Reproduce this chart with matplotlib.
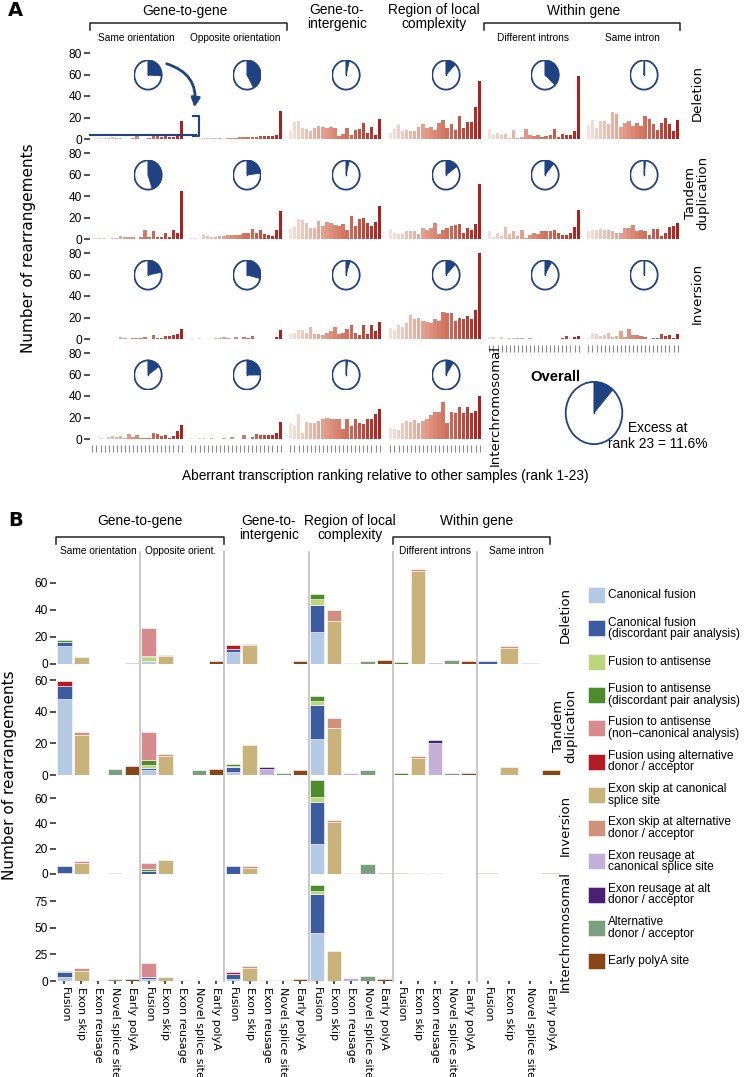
import numpy as np
import matplotlib
matplotlib.use('Agg')
import matplotlib.pyplot as plt
from matplotlib.colors import LinearSegmentedColormap
from matplotlib.patches import Wedge, Ellipse, FancyArrowPatch, Rectangle
from matplotlib.lines import Line2D
from matplotlib import font_manager as fm

# ---------------- DATA ----------------
groups_A = ["Same orientation", "Opposite orientation", "Gene-to-intergenic",
            "Region of local complexity", "Different introns", "Same intron"]
rows_A = ["Deletion", "Tandem\nduplication", "Inversion", "Interchromosomal"]
ranks = list(range(1, 24))

deletion_counts = [
    [0, 0.5, 0.5, 0.5, 1, 1.5, 1, 0.5, 0, 0, 1, 3, 0, 0, 1, 3, 4, 2, 5, 2, 2, 5, 17],
    [1, 0, 0.5, 0.5, 0.5, 0.5, 0.5, 1, 0, 1, 1, 1, 1.5, 1.5, 2, 2, 2, 3, 3, 3, 3, 4, 26],
    [7, 16, 17, 10, 9, 7, 10, 12, 11, 10, 11, 10, 3, 5, 10, 4, 8, 9, 15, 6, 11, 4, 19],
    [6, 9, 13, 7, 8, 7, 7, 11, 14, 10, 11, 8, 15, 18, 10, 14, 8, 21, 10, 16, 16, 30, 54],
    [9, 4, 6, 4, 5, 1, 8, 1, 2, 9, 4, 3, 4, 2, 3, 4, 9, 2, 5, 4, 4, 7, 59],
    [13, 18, 10, 17, 17, 14, 25, 23, 11, 15, 17, 12, 15, 12, 21, 19, 14, 8, 15, 20, 14, 7, 18],
]
tandem_counts = [
    [0.5, 0.5, 0.5, 0.5, 0, 1, 1, 3, 2, 2, 2, 0, 2, 8, 2, 7, 2, 2, 6, 2, 8, 6, 45],
    [1, 1, 0, 4, 3, 2, 2, 3, 3, 4, 4, 4, 4, 6, 6, 9, 6, 8, 5, 4, 3, 8, 26],
    [9, 11, 19, 18, 15, 10, 10, 17, 12, 16, 15, 13, 12, 14, 8, 21, 12, 19, 20, 15, 12, 16, 31],
    [9, 6, 5, 5, 7, 7, 7, 5, 10, 8, 10, 15, 5, 8, 10, 12, 13, 14, 6, 10, 8, 14, 51],
    [7, 2, 6, 3, 11, 5, 7, 3, 8, 1, 4, 6, 5, 7, 7, 7, 8, 6, 4, 4, 6, 11, 27],
    [7, 8, 8, 9, 8, 8, 7, 6, 6, 10, 10, 13, 7, 8, 7, 4, 9, 9, 3, 6, 11, 12, 15],
]
inversion_counts = [
    [0, 0, 0, 0, 0, 0, 0, 1.5, 1, 0, 1, 1, 1, 1.5, 0, 4, 1, 1, 3, 3, 4, 5, 9],
    [0.5, 0, 0.5, 0, 0, 0, 1, 1, 1.5, 1, 0, 2, 0, 2, 1, 3, 0, 0, 0, 0, 0, 2, 8],
    [5, 6, 8, 8, 6, 11, 5, 5, 4, 6, 7, 11, 5, 6, 9, 13, 6, 4, 13, 5, 13, 7, 16],
    [10, 8, 13, 11, 15, 22, 19, 20, 17, 16, 15, 19, 17, 25, 24, 24, 17, 20, 19, 21, 19, 27, 80],
    [2, 2, 0, 1.5, 0, 1, 1, 0.5, 1, 0, 1, 0, 0, 0, 0, 0, 0, 0, 1, 3, 0, 1.5, 2.5],
    [1, 6, 5, 3, 4, 6, 2, 3, 7, 2, 9, 4, 4, 3, 2, 0, 1, 1, 5, 3, 4, 1, 5],
]
interchrom_counts = [
    [0, 0, 1, 0, 2, 3, 2, 3, 1, 5, 2, 4, 1, 1, 1, 6, 5, 3, 4, 1, 3, 7, 13],
    [1, 0, 0.5, 0.5, 0, 0.5, 0, 0, 1, 0, 2, 0, 0, 4, 0, 2, 5, 4, 4, 4, 4, 6, 16],
    [15, 12, 23, 6, 16, 15, 15, 17, 19, 20, 19, 19, 19, 9, 19, 12, 19, 15, 14, 19, 19, 23, 28],
    [10, 9, 8, 15, 17, 16, 18, 15, 17, 19, 22, 25, 25, 34, 15, 25, 24, 30, 24, 30, 24, 26, 40],
]
deletion_excess = [0.26, 0.42, 0.04, 0.12, 0.37, 0.005]
tandem_excess = [0.45, 0.23, 0.04, 0.15, 0.11, 0.02]
inversion_excess = [0.22, 0.29, 0.05, 0.12, 0.08, 0.01]
interchrom_excess = [0.15, 0.25, 0.02, 0.09]
overall_excess = 0.116

# Panel B
groups_B = ["Same orientation", "Opposite orient.", "Gene-to-intergenic",
            "Region of local complexity", "Different introns", "Same intron"]
event_types = ["Canonical fusion", "Canonical fusion\n(discordant pair analysis)",
               "Fusion to antisense", "Fusion to antisense\n(discordant pair analysis)",
               "Fusion to antisense\n(non\u2212canonical analysis)",
               "Fusion using alternative\ndonor / acceptor",
               "Exon skip at canonical\nsplice site", "Exon skip at alternative\ndonor / acceptor",
               "Exon reusage at\ncanonical splice site", "Exon reusage at alt\ndonor / acceptor",
               "Alternative\ndonor / acceptor", "Early polyA site"]
event_classes = ["Fusion", "Exon skip", "Exon reusage", "Novel splice site", "Early polyA"]
type_class = [0, 0, 0, 0, 0, 0, 1, 1, 2, 2, 3, 4]
group_classes = [[0, 1, 2, 3, 4]] * 5 + [[0, 1, 3, 4]]
type_colors = ['#b4c9e3', '#3d5c9f', '#bdd57c', '#4f8a2c', '#d78b8e', '#b01c22',
               '#c9b37b', '#d0917a', '#c4afd6', '#4b1f71', '#7c9f7f', '#8a4516']
# rows = event types, columns = groups
deletion_B = np.array([
    [13, 2, 9, 24, 0, 0],
    [3, 0, 2, 20, 0, 2],
    [0, 3, 0, 4, 0, 0],
    [2, 1, 0, 4, 1.5, 0],
    [0, 21, 0, 0, 0, 0],
    [0, 0, 3, 0, 0, 0],
    [5, 6, 14, 32, 68.5, 12],
    [0, 0.5, 1, 8, 2, 1],
    [0, 0, 0, 1, 0, 0],
    [0, 0, 0, 0, 1, 0],
    [0, 0, 0, 2, 3, 1],
    [1, 2, 2, 3, 2, 0],
])
tandem_B = np.array([
    [48, 3, 2, 23, 0, 0],
    [8, 1.5, 3, 21, 0, 0],
    [0, 2, 1, 3, 0, 0],
    [0, 3, 1, 3, 1, 0],
    [0, 17.5, 0, 0, 0, 0],
    [3.5, 0, 0, 0, 0, 0],
    [25, 12, 19, 30, 11, 5],
    [2, 1.2, 0, 6, 1, 0],
    [0, 0, 4, 1, 20, 0],
    [0, 0, 0.8, 0, 2, 0],
    [4, 3, 1, 3, 1, 0],
    [6, 4, 3, 0, 1, 3],
])
inversion_B = np.array([
    [1, 0, 0, 24, 0, 0],
    [5, 2, 6, 33, 0, 0],
    [0, 0, 0, 3.5, 0, 0],
    [0, 2, 0, 13.5, 1, 1],
    [0, 5, 0, 0, 0, 0],
    [0, 0, 0, 0, 0, 0],
    [9, 11, 5, 41, 1, 0],
    [1, 0, 1, 1.5, 0, 0],
    [0, 0, 0, 1, 1, 0],
    [0, 0, 0, 0, 0, 0],
    [1, 0, 0, 8, 0, 0],
    [0, 0, 0, 1, 0, 1],
])
interchrom_B = np.array([
    [4, 2, 2, 45, 0, 0],
    [4, 2, 4.5, 37, 0, 0],
    [0, 0, 0, 3, 0, 0],
    [1.5, 0, 0.5, 5.5, 0, 0],
    [0, 12.5, 0, 0, 0, 0],
    [0, 0, 1.5, 0, 0, 0],
    [9, 4, 12, 28, 0, 0],
    [3, 0, 2, 0, 0, 0],
    [1, 1, 1, 3, 0, 0],
    [0, 0, 0, 0, 0, 0],
    [2, 0, 1, 5, 0, 0],
    [2, 0, 2, 2, 0, 0],
])
rows_B = ["Deletion", "Tandem\nduplication", "Inversion", "Interchromosomal"]

# ---------------- FIGURE ----------------
_names = {f.name for f in fm.fontManager.ttflist}
NARROW = 'Liberation Sans Narrow' if 'Liberation Sans Narrow' in _names else 'Liberation Sans'
NS = 1.0 if NARROW == 'Liberation Sans Narrow' else 0.86
SANS = 'DejaVu Sans'

W, H = 746, 1077
fig = plt.figure(figsize=(W / 100, H / 100), dpi=100)


def add_ax(x0, y0, w, h):
    return fig.add_axes([x0 / W, 1 - (y0 + h) / H, w / W, h / H])


def ftext(x, y, s, **kw):
    return fig.text(x / W, 1 - y / H, s, **kw)


def fline(xs, ys, **kw):
    fig.add_artist(Line2D([x / W for x in xs], [1 - y / H for y in ys], **kw))


BLUE = '#1f4283'
cmap = LinearSegmentedColormap.from_list('reds', ['#f5e1d9', '#e5a695', '#cf6a57', '#b11d1b'])
rank_colors = [cmap(i / 22) for i in range(23)]

# ---------- Panel A ----------
gx0 = [90, 189, 288, 388, 487, 586]
gw = 94
row_top = [53, 153, 253, 353]
row_h = 86
A_data = [deletion_counts, tandem_counts, inversion_counts, interchrom_counts]
A_excess = [deletion_excess, tandem_excess, inversion_excess, interchrom_excess]


def pie(cx, cy, w, h, frac, lw=1.3):
    pax = add_ax(cx - w / 2, cy - h / 2, w, h)
    pax.set_xlim(-1.06, 1.06)
    pax.set_ylim(-1.06, 1.06)
    pax.axis('off')
    pax.add_patch(Ellipse((0, 0), 2, 2, fc='white', ec=BLUE, lw=lw))
    pax.add_patch(Wedge((0, 0), 1, 90 - 360 * frac, 90, fc=BLUE, ec=BLUE, lw=0.6))
    pax.plot([0, 0], [0, 1], color=BLUE, lw=1.0)


for r, data in enumerate(A_data):
    for g, vals in enumerate(data):
        ax = add_ax(gx0[g], row_top[r], gw, row_h)
        x = np.arange(len(ranks))
        ax.bar(x, vals, width=0.84, color=rank_colors, linewidth=0)
        ax.set_xlim(-0.6, 22.6)
        ax.set_ylim(0, 80)
        ax.patch.set_alpha(0)
        for s in ax.spines.values():
            s.set_visible(False)
        if g == 0:
            ax.set_yticks([0, 20, 40, 60, 80])
            ax.tick_params(axis='y', length=4, width=1.1, pad=2, labelsize=10 * NS,
                           color='#222222')
            for t in ax.get_yticklabels():
                t.set_fontfamily(NARROW)
        else:
            ax.set_yticks([])
        bottom = (r == 3) or (r == 2 and g >= 4)
        if bottom:
            ax.spines['bottom'].set_position(('outward', 4))
            ax.set_xticks(x)
            ax.tick_params(axis='x', length=5, width=0.8, color='#8a8a8a', labelbottom=False)
        else:
            ax.set_xticks([])
        pie(gx0[g] + gw / 2 + 11, row_top[r] + 22, 29, 31, A_excess[r][g])

# overall pie
pie(594, 413, 60, 66, overall_excess, lw=1.3)
ftext(555, 377, "Overall", ha='center', va='center', fontsize=12.5 * NS, fontweight='bold',
      family=NARROW)
ftext(658, 428, "Excess at", ha='center', va='center', fontsize=11.5 * NS, family=NARROW)
ftext(658, 444, "rank 23 = 11.6%", ha='center', va='center', fontsize=11.5 * NS, family=NARROW)

# arrow and bracket in deletion / same orientation
fig.add_artist(FancyArrowPatch((164 / W, 1 - 63 / H), (194 / W, 1 - 110 / H),
                               connectionstyle='arc3,rad=-0.45', arrowstyle='-|>',
                               mutation_scale=13, color=BLUE, lw=2.0))
fline([90, 196], [135, 135], color=BLUE, lw=1.5)
fline([193, 199, 199, 193], [116, 116, 136, 136], color=BLUE, lw=1.5)

# panel A headers
ftext(8, 10, "A", ha='left', va='center', fontsize=14, fontweight='bold', family=SANS)
ftext(185, 11, "Gene-to-gene", ha='center', va='center', fontsize=11.5 * NS, family=NARROW)
fline([90, 90, 287, 287], [30, 23, 23, 30], color='#222222', lw=1.1)
ftext(136, 38, "Same orientation", ha='center', va='center', fontsize=8.5 * NS, family=NARROW)
ftext(235, 38, "Opposite orientation", ha='center', va='center', fontsize=8.5 * NS, family=NARROW)
ftext(337, 17, "Gene-to-\nintergenic", ha='center', va='center', fontsize=11.5 * NS,
      family=NARROW, linespacing=0.95)
ftext(434, 17, "Region of local\ncomplexity", ha='center', va='center', fontsize=11.5 * NS,
      family=NARROW, linespacing=0.95)
ftext(584, 11, "Within gene", ha='center', va='center', fontsize=11.5 * NS, family=NARROW)
fline([484, 484, 680, 680], [30, 23, 23, 30], color='#222222', lw=1.1)
ftext(533, 38, "Different introns", ha='center', va='center', fontsize=8.5 * NS, family=NARROW)
ftext(632, 38, "Same intron", ha='center', va='center', fontsize=8.5 * NS, family=NARROW)

for r, lab in enumerate(rows_A[:3]):
    ftext(697, row_top[r] + 40, lab, ha='center', va='center', rotation=90, fontsize=9.5,
          family=SANS, linespacing=0.9)
ftext(495, 406, rows_A[3], ha='center', va='center', rotation=90, fontsize=9.5, family=SANS)
ftext(29, 248, "Number of rearrangements", ha='center', va='center', rotation=90,
      fontsize=11, family=SANS)
ftext(385, 476, "Aberrant transcription ranking relative to other samples (rank 1-23)",
      ha='center', va='center', fontsize=11.5 * NS, family=NARROW)

# ---------- Panel B ----------
B_data = [deletion_B, tandem_B, inversion_B, interchrom_B]
xB0, gwB = 56, 84.2
rowB_bottom = [664, 775, 874, 981]
rowB_h = 98
rowB_ylim = [72.5, 62, 77.4, 92.2]
rowB_ticks = [[0, 20, 40, 60], [0, 20, 40, 60], [0, 20, 40, 60], [0, 25, 50, 75]]

tick_pos, tick_lab = [], []
for g in range(6):
    cls = group_classes[g]
    n = len(cls)
    for i, c in enumerate(cls):
        tick_pos.append(g + (i + 0.5) / n)
        tick_lab.append(event_classes[c])

for r, mat in enumerate(B_data):
    ax = add_ax(xB0, rowB_bottom[r] - rowB_h, 6 * gwB, rowB_h)
    ax.set_xlim(0, 6)
    ax.set_ylim(0, rowB_ylim[r])
    ax.patch.set_alpha(0)
    for s in ax.spines.values():
        s.set_visible(False)
    for g in range(6):
        cls = group_classes[g]
        n = len(cls)
        for i, c in enumerate(cls):
            xc = g + (i + 0.5) / n
            bottom = 0
            for t in range(len(event_types)):
                if type_class[t] != c:
                    continue
                v = mat[t, g]
                if v <= 0:
                    continue
                ax.bar(xc, v, bottom=bottom, width=0.86 / n, color=type_colors[t],
                       edgecolor=(1, 1, 1, 0.55), linewidth=0.7)
                bottom += v
    ax.set_yticks(rowB_ticks[r])
    ax.tick_params(axis='y', length=4, width=1.1, pad=2, labelsize=10 * NS, color='#222222')
    for t in ax.get_yticklabels():
        t.set_fontfamily(NARROW)
    if r == 3:
        ax.set_xticks(tick_pos)
        ax.set_xticklabels(tick_lab, rotation=270, fontsize=8, family=SANS, va='top', ha='center')
        ax.tick_params(axis='x', length=2, width=1.2, pad=2, color='#333333')
    else:
        ax.set_xticks([])
    ftext(565, rowB_bottom[r] - rowB_h / 2, rows_B[r], ha='center', va='center', rotation=90,
          fontsize=9.5, family=SANS, linespacing=0.9)

for g in range(1, 6):
    xs = xB0 + g * gwB
    fline([xs, xs], [552, 981], color='#c4c4c4', lw=1.3)

ftext(8, 521, "B", ha='left', va='center', fontsize=14, fontweight='bold', family=SANS)
ftext(140, 521, "Gene-to-gene", ha='center', va='center', fontsize=11.5 * NS, family=NARROW)
fline([56, 56, 224, 224], [544, 537, 537, 544], color='#222222', lw=1.1)
ftext(98, 551, "Same orientation", ha='center', va='center', fontsize=8.5 * NS, family=NARROW)
ftext(181, 551, "Opposite orient.", ha='center', va='center', fontsize=8.5 * NS, family=NARROW)
ftext(269, 528, "Gene-to-\nintergenic", ha='center', va='center', fontsize=11.5 * NS,
      family=NARROW, linespacing=0.95)
ftext(350, 528, "Region of local\ncomplexity", ha='center', va='center', fontsize=11.5 * NS,
      family=NARROW, linespacing=0.95)
ftext(477, 521, "Within gene", ha='center', va='center', fontsize=11.5 * NS, family=NARROW)
fline([393, 393, 550, 550], [544, 537, 537, 544], color='#222222', lw=1.1)
ftext(435, 551, "Different introns", ha='center', va='center', fontsize=8.5 * NS, family=NARROW)
ftext(516, 551, "Same intron", ha='center', va='center', fontsize=8.5 * NS, family=NARROW)
ftext(10, 775, "Number of rearrangements", ha='center', va='center', rotation=90,
      fontsize=11, family=SANS)

# legend
for i, (lab, col) in enumerate(zip(event_types, type_colors)):
    cy = 595 + 33.3 * i
    fig.add_artist(Rectangle((588 / W, 1 - (cy + 8) / H), 17 / W, 16 / H, facecolor=col,
                             edgecolor=(1, 1, 1, 0.6), lw=0.6, transform=fig.transFigure))
    ftext(608, cy, lab, ha='left', va='center', fontsize=10 * NS, family=NARROW,
          linespacing=0.95)

fig.savefig('out.png', dpi=100)
